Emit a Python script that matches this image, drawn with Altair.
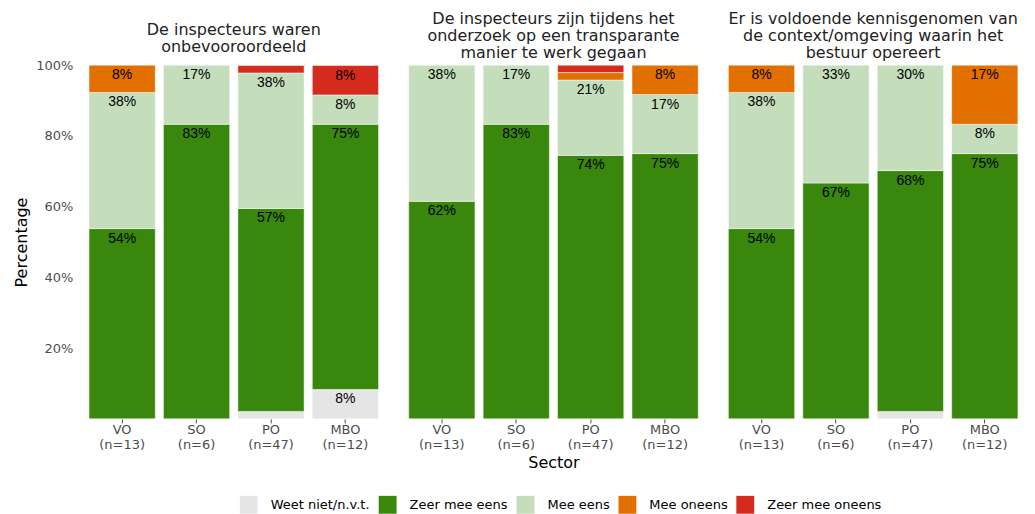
import altair as alt
import pandas as pd

sectors = ["VO", "SO", "PO", "MBO"]
n_resp = [13, 6, 47, 12]
categories = ["Weet niet/n.v.t.", "Zeer mee eens", "Mee eens", "Mee oneens", "Zeer mee oneens"]
colors = ["#E5E5E5", "#39870C", "#C4DDBB", "#E17000", "#D52B1E"]
titles = [
    ["De inspecteurs waren", "onbevooroordeeld"],
    ["De inspecteurs zijn tijdens het", "onderzoek op een transparante", "manier te werk gegaan"],
    ["Er is voldoende kennisgenomen van", "de context/omgeving waarin het", "bestuur opereert"],
]

# percentages per sector (VO, SO, PO, MBO)
q1_weet_niet = [0.0, 0.0, 2.1, 8.3]
q1_zeer_eens = [53.8, 83.3, 57.4, 75.0]
q1_eens = [38.5, 16.7, 38.3, 8.3]
q1_oneens = [7.7, 0.0, 0.0, 0.0]
q1_zeer_oneens = [0.0, 0.0, 2.1, 8.3]

q2_weet_niet = [0.0, 0.0, 0.0, 0.0]
q2_zeer_eens = [61.5, 83.3, 74.5, 75.0]
q2_eens = [38.5, 16.7, 21.3, 16.7]
q2_oneens = [0.0, 0.0, 2.1, 8.3]
q2_zeer_oneens = [0.0, 0.0, 2.1, 0.0]

q3_weet_niet = [0.0, 0.0, 2.1, 0.0]
q3_zeer_eens = [53.8, 66.7, 68.1, 75.0]
q3_eens = [38.5, 33.3, 29.8, 8.3]
q3_oneens = [7.7, 0.0, 0.0, 16.7]
q3_zeer_oneens = [0.0, 0.0, 0.0, 0.0]

questions = [
    [q1_weet_niet, q1_zeer_eens, q1_eens, q1_oneens, q1_zeer_oneens],
    [q2_weet_niet, q2_zeer_eens, q2_eens, q2_oneens, q2_zeer_oneens],
    [q3_weet_niet, q3_zeer_eens, q3_eens, q3_oneens, q3_zeer_oneens],
]

sector_labels = [f"{s}|(n={n})" for s, n in zip(sectors, n_resp)]

FONT = "DejaVu Sans"
panels = []
for qi, series in enumerate(questions):
    rows = []
    for si, lab in enumerate(sector_labels):
        cum = 0.0
        for ci, cat in enumerate(categories):
            v = series[ci][si]
            start = cum
            cum += v
            if v <= 0:
                continue
            rows.append({
                "sector": lab,
                "cat": cat,
                "order": ci,
                "start": start / 100.0,
                "end": cum / 100.0,
                "label": f"{round(v)}%" if v >= 5 else "",
            })
    df = pd.DataFrame(rows)

    xaxis = alt.Axis(
        labelAngle=0, labelExpr="split(datum.label, '|')", labelColor="#4D4D4D",
        labelFont=FONT, labelFontSize=13, labelLineHeight=15, tickColor="#4D4D4D",
        tickSize=4, domain=False, labelPadding=1,
        titleFont=FONT, titleFontSize=16, titleFontWeight="normal", titleColor="#000000",
        titlePadding=3,
    )
    x = alt.X("sector:N", sort=sector_labels,
              scale=alt.Scale(paddingInner=0.11, paddingOuter=0.055),
              axis=xaxis, title=("Sector" if qi == 1 else None))
    if qi == 0:
        y = alt.Y("start:Q", scale=alt.Scale(domain=[0, 1], nice=False),
                  axis=alt.Axis(values=[0.2, 0.4, 0.6, 0.8, 1.0], format=".0%",
                                labelColor="#4D4D4D", labelFont=FONT, labelFontSize=13,
                                ticks=False, domain=False, grid=False, labelPadding=12,
                                titleFont=FONT, titleFontSize=16, titleFontWeight="normal",
                                titleColor="#000000", titlePadding=6),
                  title="Percentage")
    else:
        y = alt.Y("start:Q", scale=alt.Scale(domain=[0, 1], nice=False), axis=None)

    color = alt.Color("cat:N", scale=alt.Scale(domain=categories, range=colors),
                      legend=alt.Legend(title=None, orient="none", direction="horizontal",
                                        legendX=155, legendY=431, padding=0,
                                        symbolType="square", symbolSize=320,
                                        symbolStrokeWidth=0, labelFont=FONT,
                                        labelFontSize=13, labelColor="#000000",
                                        labelOffset=13, columnPadding=8))

    bars = alt.Chart(df).mark_bar(stroke="white", strokeWidth=0.5).encode(
        x=x, y=y, y2="end:Q", color=color, order="order:Q"
    )
    text = alt.Chart(df).mark_text(baseline="top", dy=3, font="Liberation Sans",
                                   fontSize=14, color="#000000").encode(
        x=alt.X("sector:N", sort=sector_labels),
        y=alt.Y("end:Q"),
        text="label:N",
    )
    panel = alt.layer(bars, text).properties(
        width=298, height=354,
        title=alt.TitleParams(text=titles[qi], font=FONT, fontSize=16,
                              fontWeight="normal", color="#222222", anchor="middle",
                              frame="group", lineHeight=17, offset=-12, baseline="bottom"),
    )
    panels.append(panel)

chart = alt.hconcat(*panels, spacing=22).configure_view(stroke=None).properties(
    padding={"left": 5, "right": 5, "top": 2, "bottom": 2}
)

chart.save("out.html", embed_options={"renderer": "svg", "actions": False})
